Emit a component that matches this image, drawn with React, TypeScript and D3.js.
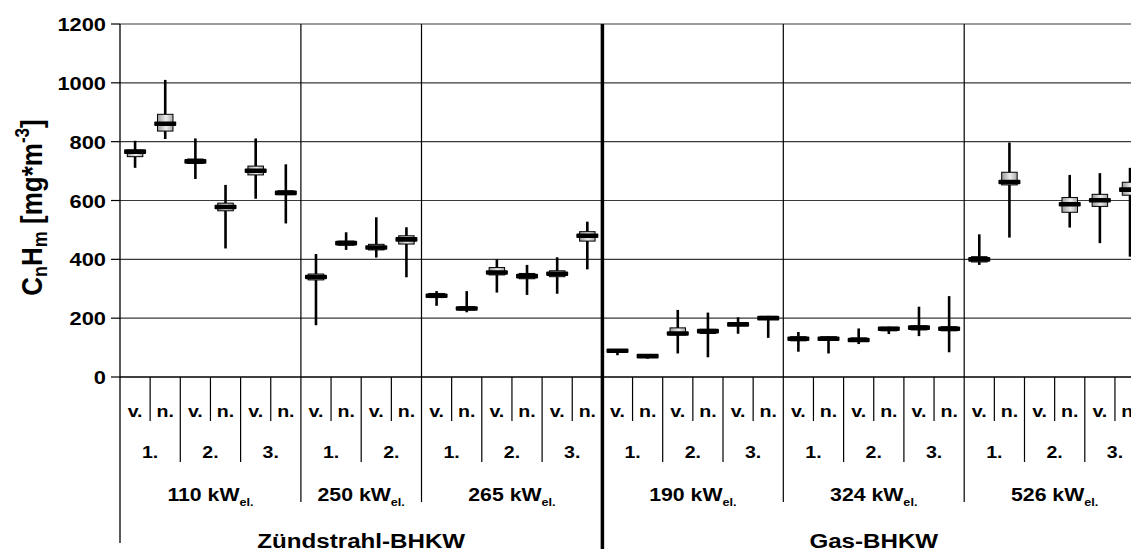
import React from 'react'
import * as d3 from 'd3'

const W = 1131
const H = 553
const FONT = '"Liberation Sans", Arial, Helvetica, sans-serif'
// the source picture is stretched horizontally, so text is widened a bit
const SX = 1.15

// categories
const engineTypes = ['Zündstrahl-BHKW', 'Gas-BHKW']
const plantLabels = ['110', '250', '265', '190', '324', '526']
const plantType = [0, 0, 0, 1, 1, 1]
const runsPerPlant = [3, 2, 3, 3, 3, 3]
const runLabels = ['1.', '2.', '3.']
const phaseLabels = ['v.', 'n.']
const yTicks = [0, 200, 400, 600, 800, 1000, 1200]

// CnHm values per slot (v./n. of each run), null = no measurement
const whiskerMax = [803, 1010, 811, 653, 811, 723, 418, 492, 543, 509, 292, 292, 400, 381, 407, 528, 92, 78, 228, 219, 203, 208, 153, 139, 165, 171, 239, 275, 485, 797, null, 687, 693, 711]
const boxHigh = [771, 893, 741, 591, 717, 633, 350, 462, 451, 480, 284, 239, 372, 352, 361, 494, 92, 75, 167, 162, 184, 206, 137, 137, 133, 169, 174, 171, 409, 696, null, 610, 621, 662]
const medians = [766, 861, 733, 578, 701, 626, 340, 455, 440, 468, 276, 233, 355, 343, 351, 480, 89, 71, 148, 156, 179, 200, 130, 130, 126, 164, 168, 164, 400, 663, null, 587, 601, 637]
const boxLow = [749, 836, 726, 565, 687, 620, 330, 448, 432, 452, 270, 228, 347, 334, 341, 462, 86, 68, 143, 148, 175, 198, 123, 125, 121, 157, 160, 157, 391, 653, null, 560, 580, 618]
const whiskerMin = [711, 809, 673, 437, 606, 522, 176, 432, 406, 339, 242, 220, 287, 279, 283, 366, 74, 62, 80, 67, 147, 133, 86, 80, 112, 146, 139, 84, 381, 474, null, 508, 455, 409]

type Slot = { i: number; plant: number; run: number; phase: number }

const slots: Slot[] = []
plantLabels.forEach((_, p) => {
  for (let r = 0; r < runsPerPlant[p]; r++) {
    phaseLabels.forEach((_, ph) => slots.push({ i: slots.length, plant: p, run: r, phase: ph }))
  }
})

const T = ({ x, y, size, anchor = 'middle', children }: any) => (
  <text
    transform={`translate(${x},${y}) scale(${SX},1)`}
    textAnchor={anchor}
    fontFamily={FONT}
    fontWeight="bold"
    fontSize={size}
    fill="#000"
  >
    {children}
  </text>
)

export default function App() {
  const left = 120
  const slotW = 30.15
  const x = d3.scaleBand<number>()
    .domain(slots.map(s => s.i))
    .range([left, left + slots.length * slotW])
  const y = d3.scaleLinear().domain([0, 1200]).range([377, 24])

  const top = y(1200)
  const base = y(0)
  const bw = x.bandwidth()

  // boundary lines below the plot
  const bounds = slots.map((s, k) => {
    const xb = x(s.i)!
    if (k === 0) return { xb, y1: top, y2: 543, w: 1.3 }
    const prev = slots[k - 1]
    if (plantType[prev.plant] !== plantType[s.plant]) return { xb, y1: top, y2: 549, w: 3.5 }
    if (prev.plant !== s.plant) return { xb, y1: top, y2: 502, w: 1.2 }
    if (prev.run !== s.run) return { xb, y1: base, y2: 462, w: 1.2 }
    return { xb, y1: base, y2: 421, w: 1.2 }
  })

  const plantRange = (p: number) => {
    const ss = slots.filter(s => s.plant === p)
    return [x(ss[0].i)!, x(ss[ss.length - 1].i)! + bw]
  }
  const typeRange = (t: number) => {
    const ss = slots.filter(s => plantType[s.plant] === t)
    return [x(ss[0].i)!, x(ss[ss.length - 1].i)! + bw]
  }

  return (
    <div style={{ position: 'absolute', left: 0, top: 0, width: W, height: H, overflow: 'hidden', background: '#fff' }}>
      <svg width={W} height={H} style={{ display: 'block' }}>
        <defs>
          <linearGradient id="boxFill" x1="0" y1="0" x2="1" y2="0">
            <stop offset="0" stopColor="#9a9a9a" />
            <stop offset="0.55" stopColor="#ececec" />
            <stop offset="1" stopColor="#a8a8a8" />
          </linearGradient>
        </defs>
        <rect width={W} height={H} fill="#fff" />

        {/* horizontal grid + y ticks */}
        {yTicks.map(t => (
          <g key={t}>
            <line x1={left} x2={W} y1={y(t)} y2={y(t)} stroke={t === 0 ? '#000' : '#3a3a3a'} strokeWidth={t === 0 ? 1.4 : 1.2} />
            <line x1={111} x2={left} y1={y(t)} y2={y(t)} stroke="#000" strokeWidth={1.2} />
            <T x={106} y={y(t) + 7} size={19} anchor="end">{t}</T>
          </g>
        ))}

        {/* vertical separators */}
        {bounds.map((b, k) => (
          <line key={k} x1={b.xb} x2={b.xb} y1={b.y1} y2={b.y2} stroke="#000" strokeWidth={b.w} />
        ))}

        {/* box plots */}
        {slots.map(s => {
          const med = medians[s.i]
          if (med == null) return null
          const cx = x(s.i)! + bw / 2
          return (
            <g key={s.i}>
              <line x1={cx} x2={cx} y1={y(whiskerMax[s.i]!)} y2={y(whiskerMin[s.i]!)} stroke="#000" strokeWidth={2.6} />
              <rect
                x={cx - 7.75}
                width={15.5}
                y={y(boxHigh[s.i]!)}
                height={Math.max(1, y(boxLow[s.i]!) - y(boxHigh[s.i]!))}
                fill="url(#boxFill)"
                stroke="#000"
                strokeWidth={1}
              />
              <rect x={cx - 11} width={22} y={y(med) - 2.3} height={4.6} rx={1} fill="#000" />
            </g>
          )
        })}

        {/* category labels */}
        {slots.map(s => (
          <T key={`ph${s.i}`} x={x(s.i)! + bw / 2} y={417} size={17}>{phaseLabels[s.phase]}</T>
        ))}
        {slots.filter(s => s.phase === 0).map(s => (
          <T key={`r${s.i}`} x={x(s.i)! + bw} y={457.5} size={17}>{runLabels[s.run]}</T>
        ))}
        {plantLabels.map((p, i) => {
          const [a, b] = plantRange(i)
          return (
            <T key={`p${i}`} x={(a + b) / 2} y={500.5} size={18.5}>
              {p} kW<tspan fontSize={11} dy={5}>el.</tspan>
            </T>
          )
        })}
        {engineTypes.map((t, i) => {
          const [a, b] = typeRange(i)
          return <T key={`t${i}`} x={(a + b) / 2} y={548} size={21}>{t}</T>
        })}

        {/* y axis title */}
        <text
          transform="translate(42,207.5) rotate(-90) scale(1,1.15)"
          textAnchor="middle"
          fontFamily={FONT}
          fontWeight="bold"
          fontSize={26}
        >
          C<tspan fontSize={18} dy={4}>n</tspan>
          <tspan dy={-4}>H</tspan>
          <tspan fontSize={18} dy={4}>m</tspan>
          <tspan dy={-4}>{'\u00a0[mg*m'}</tspan>
          <tspan fontSize={17} dy={-11}>-3</tspan>
          <tspan dy={11}>]</tspan>
        </text>
      </svg>
    </div>
  )
}
